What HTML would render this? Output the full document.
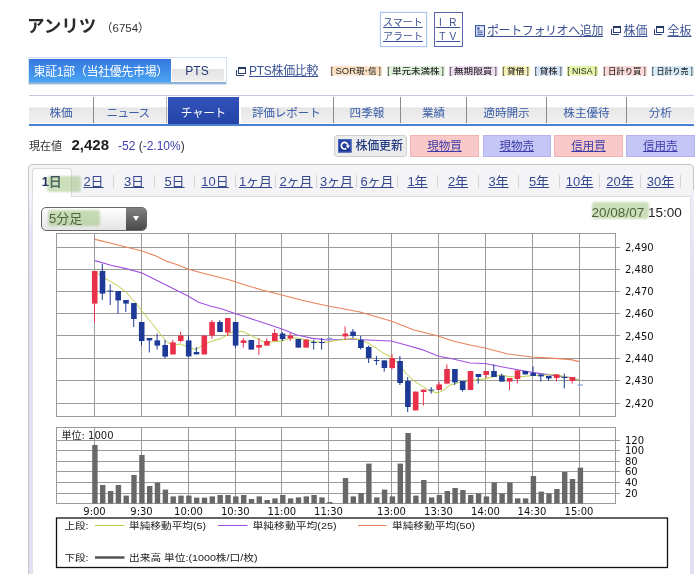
<!DOCTYPE html>
<html lang="ja"><head><meta charset="utf-8"><title>アンリツ (6754) チャート</title>
<style>
html,body{margin:0;padding:0;background:#fff}
body{width:700px;height:574px;position:relative;overflow:hidden;font-family:"Liberation Sans","Noto Sans CJK JP",sans-serif;color:#222}
div,span,a{box-sizing:border-box}
.ab{position:absolute;white-space:nowrap}
.lk{color:#3a5294;text-decoration:underline}
.ic{position:absolute}
.title{left:27px;top:13.5px;font-size:17.5px;line-height:24px;font-weight:bold;color:#2a2a2a}
.code{left:101px;top:20px;font-size:11.5px;line-height:16px;color:#333}
.sa{left:380px;top:12px;width:47px;height:35px;border:1px solid #a9c6ec;box-shadow:0 0 1px #a9c6ec;font-size:10px;line-height:14.5px;padding:2.5px 0 0 2px;color:#3a5294}
.ir{left:433.5px;top:12px;width:29px;height:35px;border:1px solid #5a64ac;font-size:10px;line-height:14.5px;padding:2.5px 0 0 0;text-align:center;color:#3a5294;letter-spacing:0.6px}
.mk{left:28px;top:57px;width:198.5px;height:28px;border:1px solid #d4e2f2;background:#fff}
.mkl{left:29px;top:82px;width:196.5px;height:2px;background:linear-gradient(#7ea8d2,#98bcde)}
.mk1{left:29px;top:59px;width:142px;height:23px;background:linear-gradient(#3677e0,#4aa4f2);color:#fff;font-size:12px;line-height:26px;padding-left:4.5px;letter-spacing:-0.35px}
.mk2{left:172px;top:59px;width:52px;height:22px;background:linear-gradient(#fff 0,#fff 10.5px,#e4e4e4 10.5px,#eee 100%);color:#22387a;font-size:12px;line-height:25px;text-align:center;padding-right:2px}
.tg{position:absolute;top:65px;height:12px;font-size:9px;line-height:12px;color:#222;white-space:nowrap;display:flex;justify-content:space-between}
.tg .tb{flex:1;text-align:center;letter-spacing:0.6px;padding-left:0.6px}
.tg .br{display:inline-block;width:5px;text-align:center}
.navtop{left:28.5px;top:95px;width:665.5px;height:1px;background:#c3c8de}
.navbot{left:28.5px;top:123.5px;width:665.5px;height:2.5px;background:#4c80d2}
.nv{position:absolute;top:96px;height:27px;font-size:11.6px;line-height:34px;text-align:center;color:#3a5ea8;background:linear-gradient(#fff 0,#fff 42%,#e6e6e6 43%,#f1f1f1 100%);white-space:nowrap}
.nv.act{top:97px;height:27px;line-height:32px;background:linear-gradient(#3353bb,#2443a6);color:#fff;z-index:2}
.ns{position:absolute;top:97px;width:1px;height:26px;background:#8a8a8a;z-index:1}
.now{left:29px;top:138px;font-size:11px;line-height:16px;color:#333}
.px{left:71.5px;top:135px;font-size:15px;line-height:20px;font-weight:bold;color:#222}
.chg{left:118px;top:138px;font-size:12px;line-height:16px;color:#333}
.chg span{color:#4040b0}
.bt{position:absolute;top:135px;height:21.5px;font-size:11.5px;line-height:20.5px;text-align:center;color:#3a3aa8;text-decoration:underline;white-space:nowrap}
.buy{background:#f9c9c9;border:1px solid #f3b3b3}
.sell{background:#c6c6f6;border:1px solid #b4b4ee}
.upd{left:334px;width:72.5px;background:#ececec;border:1px solid #cfcfcf;border-radius:3px;color:#223a80;text-decoration:none;text-align:left;padding-left:20.5px;font-weight:500;letter-spacing:-0.2px;font-size:12px}
.pbox{left:28px;top:164px;width:666px;height:420px;border:1px solid #c6c6c6;border-radius:4px;background:#f4f4f7}
.pin{left:32px;top:195.5px;width:658.5px;height:400px;background:#fff;border:1px solid #e2e2ea;border-top-color:#dcdce0}
.strip{left:29px;top:190px;width:3.5px;height:400px;background:linear-gradient(#f4f4f8 0,#f2f2fa 10px,#e2e2f5 45px,#e0e0f4 100%)}
.strip2{left:690.5px;top:190px;width:3px;height:400px;background:linear-gradient(#f0f0f8 0,#ececf7 20px,#e2e2f5 80px,#e0e0f4 100%)}
.pt{position:absolute;top:168px;width:40.5px;height:28px;font-size:13px;line-height:28px;padding-left:1.5px;text-align:center;color:#35488e;white-space:nowrap}
.pt u{text-decoration:underline}
.pt.act{width:39.5px;background:#fff;border:1px solid #dcdcdc;border-bottom:none;border-radius:3px 3px 0 0;font-weight:bold;color:#1a2a5a;height:28.5px;line-height:26px;padding-left:0;z-index:3}
.ps{position:absolute;top:175px;width:1px;height:13px;background:#d4d4d4}
.hl{position:absolute;background:rgba(140,182,100,0.44);border-radius:3px;filter:blur(0.8px);z-index:5}
.sel{left:41px;top:207px;width:106px;height:23.5px;border:1px solid #666;border-radius:5px;background:linear-gradient(#fff,#e4e4e4);overflow:hidden;font-size:13px;line-height:22px;padding-left:7px;color:#222}
.sel i{position:absolute;right:0;top:0;width:20px;height:100%;background:linear-gradient(#808080,#4a4a4a)}
.sel i:after{content:"";position:absolute;left:6.5px;top:8px;border:3.3px solid transparent;border-top:5px solid #fff;border-bottom:none}
.date{left:591.5px;top:204px;font-size:13.55px;line-height:18px;color:#222}
</style></head><body>
<div class="ab title">アンリツ</div>
<div class="ab code">（6754）</div>
<div class="ab sa"><span class="lk">スマート</span><br><span class="lk">アラート</span></div>
<div class="ab ir"><span class="lk">&nbsp;I&nbsp;&nbsp;R&nbsp;</span><br><span class="lk">&nbsp;T&nbsp;V&nbsp;</span></div>
<svg class="ic" style="left:474.5px;top:25px" width="10" height="12" viewBox="0 0 11 13"><rect x="0.6" y="0.6" width="9.8" height="11.8" fill="#e6edf8" stroke="#334f9e" stroke-width="1.2"/><rect x="2.5" y="2.5" width="2.5" height="2.5" fill="#334f9e"/><rect x="2.5" y="6" width="6" height="1" fill="#334f9e"/><rect x="2.5" y="8" width="6" height="1" fill="#334f9e"/><rect x="2.5" y="10" width="6" height="1" fill="#334f9e"/></svg>
<div class="ab lk" style="left:487px;top:22px;font-size:12px;line-height:18px;letter-spacing:-0.4px">ポートフォリオへ追加</div>
<svg class="ic" style="left:611px;top:26px" width="10" height="10" viewBox="0 0 10 10"><path d="M0.5 3V8.5H8" fill="none" stroke="#2a4076" stroke-width="1"/><rect x="2.5" y="0.5" width="7" height="6" fill="#fff" stroke="#2a4076" stroke-width="1"/><rect x="2" y="0" width="8" height="2" fill="#22365e"/></svg>
<div class="ab lk" style="left:623.5px;top:22px;font-size:12px;line-height:18px">株価</div>
<svg class="ic" style="left:654px;top:26px" width="10" height="10" viewBox="0 0 10 10"><path d="M0.5 3V8.5H8" fill="none" stroke="#2a4076" stroke-width="1"/><rect x="2.5" y="0.5" width="7" height="6" fill="#fff" stroke="#2a4076" stroke-width="1"/><rect x="2" y="0" width="8" height="2" fill="#22365e"/></svg>
<div class="ab lk" style="left:667.5px;top:22px;font-size:12px;line-height:18px">全板</div>
<div class="ab mk"></div><div class="ab mkl"></div>
<div class="ab mk1">東証1部（当社優先市場）</div>
<div class="ab mk2">PTS</div>
<svg class="ic" style="left:236px;top:67px" width="10" height="10" viewBox="0 0 10 10"><path d="M0.5 3V8.5H8" fill="none" stroke="#2a4076" stroke-width="1"/><rect x="2.5" y="0.5" width="7" height="6" fill="#fff" stroke="#2a4076" stroke-width="1"/><rect x="2" y="0" width="8" height="2" fill="#22365e"/></svg>
<div class="ab lk" style="left:249px;top:62px;font-size:12px;line-height:18px;letter-spacing:-0.3px">PTS株価比較</div>
<svg width="700" height="20" viewBox="0 60 700 20" style="position:absolute;left:0;top:60px"><g font-family="'Liberation Sans','Noto Sans CJK JP',sans-serif" font-size="7.7" font-weight="500" fill="#2a2a2a"><rect x="330.5" y="66" width="51.5" height="9.5" fill="#fce0c4"/><text x="330.8" y="73.8" font-size="8.5">[</text><text x="335.5" y="74" textLength="41.0" lengthAdjust="spacingAndGlyphs"><tspan font-size="9">SOR</tspan>現･信</text><text x="378.4" y="73.8" font-size="8.5">]</text><rect x="387.0" y="66" width="58.0" height="9.5" fill="#e0f2dc"/><text x="387.3" y="73.8" font-size="8.5">[</text><text x="392.0" y="74" textLength="47.5" lengthAdjust="spacingAndGlyphs">単元未満株</text><text x="441.4" y="73.8" font-size="8.5">]</text><rect x="449.0" y="66" width="49.0" height="9.5" fill="#efdcf2"/><text x="449.3" y="73.8" font-size="8.5">[</text><text x="454.0" y="74" textLength="38.5" lengthAdjust="spacingAndGlyphs">無期限買</text><text x="494.4" y="73.8" font-size="8.5">]</text><rect x="502.0" y="66" width="28.0" height="9.5" fill="#f5f1b8"/><text x="502.3" y="73.8" font-size="8.5">[</text><text x="507.0" y="74" textLength="17.5" lengthAdjust="spacingAndGlyphs">貸借</text><text x="526.4" y="73.8" font-size="8.5">]</text><rect x="534.5" y="66" width="28.5" height="9.5" fill="#d6e5f8"/><text x="534.8" y="73.8" font-size="8.5">[</text><text x="539.5" y="74" textLength="18.0" lengthAdjust="spacingAndGlyphs">貸株</text><text x="559.4" y="73.8" font-size="8.5">]</text><rect x="567.0" y="66" width="31.0" height="9.5" fill="#e4f4a8"/><text x="567.3" y="73.8" font-size="8.5">[</text><text x="572.0" y="74" textLength="20.5" lengthAdjust="spacingAndGlyphs"><tspan font-size="9">NISA</tspan></text><text x="594.4" y="73.8" font-size="8.5">]</text><rect x="603.0" y="66" width="44.0" height="9.5" fill="#fcdada"/><text x="603.3" y="73.8" font-size="8.5">[</text><text x="608.0" y="74" textLength="33.5" lengthAdjust="spacingAndGlyphs">日計り買</text><text x="643.4" y="73.8" font-size="8.5">]</text><rect x="651.5" y="66" width="42.5" height="9.5" fill="#d6ecf8"/><text x="651.8" y="73.8" font-size="8.5">[</text><text x="656.5" y="74" textLength="32.0" lengthAdjust="spacingAndGlyphs">日計り売</text><text x="690.4" y="73.8" font-size="8.5">]</text></g></svg>
<div class="ab navtop"></div>
<div class="nv" style="left:29.0px;width:64.0px;letter-spacing:0.00px;text-indent:0.0px">株価</div><div class="nv" style="left:93.0px;width:74.5px;letter-spacing:-0.70px;text-indent:-4.5px">ニュース</div><div class="ns" style="left:92.5px"></div><div class="nv act" style="left:167.5px;width:71.5px;letter-spacing:-0.30px;text-indent:0.0px">チャート</div><div class="nv" style="left:239.0px;width:94.5px;letter-spacing:-0.15px;text-indent:0.0px">評価レポート</div><div class="nv" style="left:333.5px;width:67.0px;letter-spacing:0.00px;text-indent:0.0px">四季報</div><div class="ns" style="left:333.0px"></div><div class="nv" style="left:400.5px;width:66.0px;letter-spacing:0.00px;text-indent:0.0px">業績</div><div class="ns" style="left:400.0px"></div><div class="nv" style="left:466.5px;width:80.0px;letter-spacing:0.00px;text-indent:0.0px">適時開示</div><div class="ns" style="left:466.0px"></div><div class="nv" style="left:546.5px;width:80.0px;letter-spacing:0.00px;text-indent:0.0px">株主優待</div><div class="ns" style="left:546.0px"></div><div class="nv" style="left:626.5px;width:67.5px;letter-spacing:0.00px;text-indent:0.0px">分析</div><div class="ns" style="left:626.0px"></div><div class="ns" style="left:166px;background:#b4b4b4"></div><div class="ns" style="left:239px;width:1.5px;background:#fff"></div>
<div class="ab navbot"></div>
<div class="ab now">現在値</div>
<div class="ab px">2,428</div>
<div class="ab chg"><span>-52</span> (<span>-2.10%</span>)</div>
<div class="bt upd"><svg class="ic" style="left:3px;top:3px" width="13.5" height="13.5" viewBox="0 0 13.5 13.5"><defs><linearGradient id="rg" x1="0" y1="0" x2="0" y2="1"><stop offset="0" stop-color="#2a4aae"/><stop offset="1" stop-color="#15308c"/></linearGradient></defs><rect width="13.5" height="13.5" fill="url(#rg)"/><rect x="0.5" y="0.5" width="12.5" height="12.5" fill="none" stroke="#4a66c0" stroke-width="1"/><path d="M9.9 6.6A3.3 3.3 0 1 0 8.3 9.5" fill="none" stroke="#fff" stroke-width="1.7"/><path d="M7.6 6.6h4.6l-2.3 3z" fill="#fff"/></svg>株価更新</div>
<div class="bt buy" style="left:410px;width:69px">現物買</div>
<div class="bt sell" style="left:482.5px;width:68.5px">現物売</div>
<div class="bt buy" style="left:554px;width:69px">信用買</div>
<div class="bt sell" style="left:626px;width:68.5px">信用売</div>
<div class="ab pbox"></div>
<div class="ab strip"></div><div class="ab strip2"></div>
<div class="ab pin"></div>
<div class="pt act" style="left:32.0px">1日</div><div class="pt" style="left:72.5px"><u>2日</u></div><div class="ps" style="left:113.0px"></div><div class="pt" style="left:113.0px"><u>3日</u></div><div class="ps" style="left:153.5px"></div><div class="pt" style="left:153.5px"><u>5日</u></div><div class="ps" style="left:194.0px"></div><div class="pt" style="left:194.0px"><u>10日</u></div><div class="ps" style="left:234.5px"></div><div class="pt" style="left:234.5px"><u>1ヶ月</u></div><div class="ps" style="left:275.0px"></div><div class="pt" style="left:275.0px"><u>2ヶ月</u></div><div class="ps" style="left:315.5px"></div><div class="pt" style="left:315.5px"><u>3ヶ月</u></div><div class="ps" style="left:356.0px"></div><div class="pt" style="left:356.0px"><u>6ヶ月</u></div><div class="ps" style="left:396.5px"></div><div class="pt" style="left:396.5px"><u>1年</u></div><div class="ps" style="left:437.0px"></div><div class="pt" style="left:437.0px"><u>2年</u></div><div class="ps" style="left:477.5px"></div><div class="pt" style="left:477.5px"><u>3年</u></div><div class="ps" style="left:518.0px"></div><div class="pt" style="left:518.0px"><u>5年</u></div><div class="ps" style="left:558.5px"></div><div class="pt" style="left:558.5px"><u>10年</u></div><div class="ps" style="left:599.0px"></div><div class="pt" style="left:599.0px"><u>20年</u></div><div class="ps" style="left:639.5px"></div><div class="pt" style="left:639.5px"><u>30年</u></div><div class="ps" style="left:680.0px"></div>
<div class="ab sel">5分足<i></i></div>
<div class="ab date">20/08/07 15:00</div>
<svg width="700" height="574" viewBox="0 0 700 574" style="position:absolute;left:0;top:0">
<g stroke="#9a9a9a" stroke-width="1" fill="none" shape-rendering="crispEdges">
<rect x="56.5" y="233.0" width="559.0" height="183.5" fill="#fff"/>
<line x1="56.5" y1="247.6" x2="620.0" y2="247.6"/>
<line x1="56.5" y1="269.5" x2="620.0" y2="269.5"/>
<line x1="56.5" y1="291.6" x2="620.0" y2="291.6"/>
<line x1="56.5" y1="313.6" x2="620.0" y2="313.6"/>
<line x1="56.5" y1="335.8" x2="620.0" y2="335.8"/>
<line x1="56.5" y1="358.0" x2="620.0" y2="358.0"/>
<line x1="56.5" y1="380.5" x2="620.0" y2="380.5"/>
<line x1="56.5" y1="403.0" x2="620.0" y2="403.0"/>
<line x1="94.5" y1="233.0" x2="94.5" y2="416.5"/>
<line x1="141.5" y1="233.0" x2="141.5" y2="416.5"/>
<line x1="188.5" y1="233.0" x2="188.5" y2="416.5"/>
<line x1="235.3" y1="233.0" x2="235.3" y2="416.5"/>
<line x1="281.8" y1="233.0" x2="281.8" y2="416.5"/>
<line x1="328.5" y1="233.0" x2="328.5" y2="416.5"/>
<line x1="391.5" y1="233.0" x2="391.5" y2="416.5"/>
<line x1="438.5" y1="233.0" x2="438.5" y2="416.5"/>
<line x1="485.5" y1="233.0" x2="485.5" y2="416.5"/>
<line x1="532.0" y1="233.0" x2="532.0" y2="416.5"/>
<line x1="579.0" y1="233.0" x2="579.0" y2="416.5"/>
<rect x="56.5" y="427.5" width="559.0" height="76.0" fill="#fff"/>
<line x1="56.5" y1="440.0" x2="620.0" y2="440.0"/>
<line x1="56.5" y1="450.4" x2="620.0" y2="450.4"/>
<line x1="56.5" y1="461.0" x2="620.0" y2="461.0"/>
<line x1="56.5" y1="471.6" x2="620.0" y2="471.6"/>
<line x1="56.5" y1="482.3" x2="620.0" y2="482.3"/>
<line x1="56.5" y1="493.0" x2="620.0" y2="493.0"/>
<line x1="94.5" y1="427.5" x2="94.5" y2="503.5"/>
<line x1="141.5" y1="427.5" x2="141.5" y2="503.5"/>
<line x1="188.5" y1="427.5" x2="188.5" y2="503.5"/>
<line x1="235.3" y1="427.5" x2="235.3" y2="503.5"/>
<line x1="281.8" y1="427.5" x2="281.8" y2="503.5"/>
<line x1="328.5" y1="427.5" x2="328.5" y2="503.5"/>
<line x1="391.5" y1="427.5" x2="391.5" y2="503.5"/>
<line x1="438.5" y1="427.5" x2="438.5" y2="503.5"/>
<line x1="485.5" y1="427.5" x2="485.5" y2="503.5"/>
<line x1="532.0" y1="427.5" x2="532.0" y2="503.5"/>
<line x1="579.0" y1="427.5" x2="579.0" y2="503.5"/>
</g>
<polyline points="95.0,239.4 110.0,243.0 126.0,247.0 142.0,251.0 156.0,256.0 166.0,261.0 178.0,265.0 188.0,269.0 202.0,273.0 214.0,276.0 230.0,280.0 245.0,285.0 262.0,290.0 282.0,295.0 305.0,301.0 328.0,306.0 360.0,312.0 391.0,321.0 414.0,330.0 438.0,336.0 453.0,341.0 470.0,345.0 485.0,348.0 508.0,354.0 532.0,357.0 555.0,358.4 571.0,359.6 579.0,361.6" fill="none" stroke="#e8835a" stroke-width="1.1"/>
<polyline points="95.0,260.6 110.0,265.0 126.0,268.6 142.0,273.0 156.0,280.0 170.0,287.0 180.0,292.0 188.0,296.0 198.0,302.0 210.0,306.0 222.0,309.0 235.0,313.6 258.0,321.0 282.0,329.0 297.0,335.0 313.0,338.4 328.0,340.0 352.0,339.0 368.0,340.0 391.0,341.0 406.0,345.0 422.0,349.6 438.0,356.0 453.0,359.0 470.0,363.0 485.0,363.5 508.0,368.0 532.0,372.4 555.0,375.6 571.0,377.6 579.0,380.0" fill="none" stroke="#a050e0" stroke-width="1.1"/>
<polyline points="95.0,271.0 102.0,277.0 110.0,281.0 118.0,286.0 126.0,292.0 134.0,301.0 142.0,311.0 150.0,321.0 158.0,331.0 166.0,341.0 172.4,345.5 180.0,344.0 188.0,347.0 196.0,349.6 204.0,344.4 212.0,341.0 220.0,339.0 227.0,335.0 235.0,331.0 243.0,331.6 250.0,335.0 258.0,339.0 266.0,343.0 274.0,341.6 282.0,341.0 290.0,338.0 297.0,338.0 305.0,339.6 313.0,341.6 321.0,342.4 328.0,342.0 336.0,340.4 344.0,339.6 352.0,338.4 360.0,339.6 368.0,343.0 376.0,348.0 383.0,353.0 391.0,357.0 399.0,364.0 406.6,374.0 414.0,381.0 422.0,386.0 430.0,391.0 438.0,393.0 444.0,390.0 450.0,385.0 461.0,382.0 470.0,381.0 477.0,379.6 485.0,379.0 492.0,377.0 500.0,375.0 508.0,376.4 516.0,377.0 524.0,376.4 532.0,375.6 547.0,375.0 555.0,374.4 563.0,376.4 571.0,378.0 579.0,380.0" fill="none" stroke="#bcd048" stroke-width="1"/>
<line x1="94.5" y1="271.0" x2="94.5" y2="323.0" stroke="#e8304a" stroke-width="1"/>
<rect x="91.9" y="271.0" width="5.6" height="32.6" fill="#e8304a"/>
<line x1="102.3" y1="264.0" x2="102.3" y2="300.0" stroke="#1c3a96" stroke-width="1"/>
<rect x="99.7" y="271.0" width="5.6" height="22.6" fill="#1c3a96"/>
<line x1="110.2" y1="284.4" x2="110.2" y2="305.0" stroke="#1c3a96" stroke-width="1"/>
<rect x="107.6" y="290.6" width="5.6" height="1.0" fill="#1c3a96"/>
<line x1="118.0" y1="291.0" x2="118.0" y2="313.6" stroke="#1c3a96" stroke-width="1"/>
<rect x="115.4" y="291.0" width="5.6" height="9.4" fill="#1c3a96"/>
<line x1="125.8" y1="300.0" x2="125.8" y2="312.0" stroke="#1c3a96" stroke-width="1"/>
<rect x="123.2" y="300.0" width="5.6" height="3.6" fill="#1c3a96"/>
<line x1="133.7" y1="303.0" x2="133.7" y2="327.0" stroke="#1c3a96" stroke-width="1"/>
<rect x="131.1" y="303.0" width="5.6" height="16.0" fill="#1c3a96"/>
<line x1="141.5" y1="322.0" x2="141.5" y2="345.6" stroke="#1c3a96" stroke-width="1"/>
<rect x="138.9" y="322.0" width="5.6" height="19.0" fill="#1c3a96"/>
<line x1="149.3" y1="338.0" x2="149.3" y2="352.4" stroke="#1c3a96" stroke-width="1"/>
<rect x="146.7" y="338.0" width="5.6" height="2.4" fill="#1c3a96"/>
<line x1="157.1" y1="333.6" x2="157.1" y2="349.6" stroke="#1c3a96" stroke-width="1"/>
<rect x="154.5" y="340.4" width="5.6" height="5.2" fill="#1c3a96"/>
<line x1="165.0" y1="340.0" x2="165.0" y2="358.4" stroke="#1c3a96" stroke-width="1"/>
<rect x="162.4" y="345.0" width="5.6" height="11.6" fill="#1c3a96"/>
<line x1="172.8" y1="340.0" x2="172.8" y2="354.4" stroke="#e8304a" stroke-width="1"/>
<rect x="170.2" y="342.4" width="5.6" height="12.0" fill="#e8304a"/>
<line x1="180.6" y1="331.6" x2="180.6" y2="342.4" stroke="#e8304a" stroke-width="1"/>
<rect x="178.0" y="335.6" width="5.6" height="5.4" fill="#e8304a"/>
<line x1="188.5" y1="335.6" x2="188.5" y2="357.6" stroke="#1c3a96" stroke-width="1"/>
<rect x="185.9" y="340.4" width="5.6" height="16.0" fill="#1c3a96"/>
<line x1="196.3" y1="347.0" x2="196.3" y2="354.4" stroke="#1c3a96" stroke-width="1"/>
<rect x="193.7" y="352.0" width="5.6" height="2.4" fill="#1c3a96"/>
<line x1="204.1" y1="335.6" x2="204.1" y2="354.4" stroke="#e8304a" stroke-width="1"/>
<rect x="201.5" y="335.6" width="5.6" height="18.8" fill="#e8304a"/>
<line x1="211.9" y1="320.0" x2="211.9" y2="338.6" stroke="#e8304a" stroke-width="1"/>
<rect x="209.3" y="322.0" width="5.6" height="13.6" fill="#e8304a"/>
<line x1="219.8" y1="320.0" x2="219.8" y2="332.0" stroke="#1c3a96" stroke-width="1"/>
<rect x="217.2" y="322.0" width="5.6" height="10.0" fill="#1c3a96"/>
<line x1="227.6" y1="318.0" x2="227.6" y2="336.0" stroke="#e8304a" stroke-width="1"/>
<rect x="225.0" y="318.0" width="5.6" height="14.6" fill="#e8304a"/>
<line x1="235.4" y1="322.0" x2="235.4" y2="348.0" stroke="#1c3a96" stroke-width="1"/>
<rect x="232.8" y="322.0" width="5.6" height="23.6" fill="#1c3a96"/>
<line x1="243.3" y1="338.0" x2="243.3" y2="347.6" stroke="#e8304a" stroke-width="1"/>
<rect x="240.7" y="340.4" width="5.6" height="2.6" fill="#e8304a"/>
<line x1="251.1" y1="340.0" x2="251.1" y2="349.6" stroke="#1c3a96" stroke-width="1"/>
<rect x="248.5" y="340.0" width="5.6" height="9.6" fill="#1c3a96"/>
<line x1="258.9" y1="338.0" x2="258.9" y2="355.0" stroke="#e8304a" stroke-width="1"/>
<rect x="256.3" y="345.0" width="5.6" height="2.6" fill="#e8304a"/>
<line x1="266.8" y1="338.4" x2="266.8" y2="345.6" stroke="#e8304a" stroke-width="1"/>
<rect x="264.2" y="341.0" width="5.6" height="4.6" fill="#e8304a"/>
<line x1="274.6" y1="329.0" x2="274.6" y2="341.0" stroke="#e8304a" stroke-width="1"/>
<rect x="272.0" y="333.0" width="5.6" height="8.0" fill="#e8304a"/>
<line x1="282.4" y1="332.0" x2="282.4" y2="341.0" stroke="#1c3a96" stroke-width="1"/>
<rect x="279.8" y="333.6" width="5.6" height="5.4" fill="#1c3a96"/>
<line x1="290.2" y1="333.0" x2="290.2" y2="341.0" stroke="#e8304a" stroke-width="1"/>
<rect x="287.6" y="335.6" width="5.6" height="2.8" fill="#e8304a"/>
<line x1="298.1" y1="339.0" x2="298.1" y2="347.6" stroke="#1c3a96" stroke-width="1"/>
<rect x="295.5" y="339.0" width="5.6" height="8.6" fill="#1c3a96"/>
<line x1="305.9" y1="339.6" x2="305.9" y2="347.6" stroke="#e8304a" stroke-width="1"/>
<rect x="303.3" y="339.6" width="5.6" height="8.0" fill="#e8304a"/>
<line x1="313.7" y1="339.6" x2="313.7" y2="349.6" stroke="#1c3a96" stroke-width="1"/>
<rect x="311.1" y="342.0" width="5.6" height="1.0" fill="#1c3a96"/>
<line x1="321.6" y1="338.0" x2="321.6" y2="349.6" stroke="#1c3a96" stroke-width="1"/>
<rect x="319.0" y="342.0" width="5.6" height="1.0" fill="#1c3a96"/>
<line x1="329.4" y1="337.5" x2="329.4" y2="339.5" stroke="#7a9adc" stroke-width="1"/>
<rect x="326.8" y="338.0" width="5.6" height="1.0" fill="#7a9adc"/>
<line x1="345.1" y1="326.4" x2="345.1" y2="340.0" stroke="#e8304a" stroke-width="1"/>
<rect x="342.5" y="333.6" width="5.6" height="2.8" fill="#e8304a"/>
<line x1="352.9" y1="329.0" x2="352.9" y2="338.0" stroke="#1c3a96" stroke-width="1"/>
<rect x="350.3" y="331.6" width="5.6" height="4.4" fill="#1c3a96"/>
<line x1="360.7" y1="336.0" x2="360.7" y2="349.6" stroke="#1c3a96" stroke-width="1"/>
<rect x="358.1" y="340.0" width="5.6" height="8.0" fill="#1c3a96"/>
<line x1="368.6" y1="345.6" x2="368.6" y2="363.0" stroke="#1c3a96" stroke-width="1"/>
<rect x="365.9" y="347.0" width="5.6" height="11.0" fill="#1c3a96"/>
<line x1="376.4" y1="356.0" x2="376.4" y2="365.0" stroke="#1c3a96" stroke-width="1"/>
<rect x="373.8" y="360.0" width="5.6" height="1.0" fill="#1c3a96"/>
<line x1="384.2" y1="360.4" x2="384.2" y2="371.6" stroke="#1c3a96" stroke-width="1"/>
<rect x="381.6" y="360.4" width="5.6" height="7.6" fill="#1c3a96"/>
<line x1="392.0" y1="354.0" x2="392.0" y2="369.6" stroke="#e8304a" stroke-width="1"/>
<rect x="389.4" y="358.0" width="5.6" height="10.0" fill="#e8304a"/>
<line x1="399.9" y1="356.0" x2="399.9" y2="385.0" stroke="#1c3a96" stroke-width="1"/>
<rect x="397.3" y="361.0" width="5.6" height="22.0" fill="#1c3a96"/>
<line x1="407.7" y1="377.0" x2="407.7" y2="412.0" stroke="#1c3a96" stroke-width="1"/>
<rect x="405.1" y="381.0" width="5.6" height="26.0" fill="#1c3a96"/>
<line x1="415.5" y1="391.6" x2="415.5" y2="410.4" stroke="#e8304a" stroke-width="1"/>
<rect x="412.9" y="391.6" width="5.6" height="18.8" fill="#e8304a"/>
<line x1="423.4" y1="389.6" x2="423.4" y2="405.6" stroke="#e8304a" stroke-width="1"/>
<rect x="420.8" y="389.6" width="5.6" height="2.4" fill="#e8304a"/>
<line x1="431.2" y1="387.0" x2="431.2" y2="393.6" stroke="#1c3a96" stroke-width="1"/>
<rect x="428.6" y="389.6" width="5.6" height="1.0" fill="#1c3a96"/>
<line x1="439.0" y1="381.6" x2="439.0" y2="390.0" stroke="#e8304a" stroke-width="1"/>
<rect x="436.4" y="384.4" width="5.6" height="5.6" fill="#e8304a"/>
<line x1="446.9" y1="364.4" x2="446.9" y2="383.6" stroke="#e8304a" stroke-width="1"/>
<rect x="444.2" y="369.0" width="5.6" height="14.6" fill="#e8304a"/>
<line x1="454.7" y1="369.0" x2="454.7" y2="385.0" stroke="#1c3a96" stroke-width="1"/>
<rect x="452.1" y="369.0" width="5.6" height="13.4" fill="#1c3a96"/>
<line x1="462.5" y1="381.0" x2="462.5" y2="391.6" stroke="#1c3a96" stroke-width="1"/>
<rect x="459.9" y="381.0" width="5.6" height="9.0" fill="#1c3a96"/>
<line x1="470.3" y1="371.0" x2="470.3" y2="390.0" stroke="#e8304a" stroke-width="1"/>
<rect x="467.7" y="371.0" width="5.6" height="19.0" fill="#e8304a"/>
<line x1="478.2" y1="374.0" x2="478.2" y2="383.6" stroke="#1c3a96" stroke-width="1"/>
<rect x="475.6" y="374.0" width="5.6" height="3.0" fill="#1c3a96"/>
<line x1="486.0" y1="371.0" x2="486.0" y2="378.0" stroke="#e8304a" stroke-width="1"/>
<rect x="483.4" y="371.0" width="5.6" height="4.0" fill="#e8304a"/>
<line x1="493.8" y1="364.4" x2="493.8" y2="377.0" stroke="#1c3a96" stroke-width="1"/>
<rect x="491.2" y="371.0" width="5.6" height="6.0" fill="#1c3a96"/>
<line x1="501.7" y1="373.6" x2="501.7" y2="381.6" stroke="#1c3a96" stroke-width="1"/>
<rect x="499.1" y="375.6" width="5.6" height="6.0" fill="#1c3a96"/>
<line x1="509.5" y1="378.0" x2="509.5" y2="390.4" stroke="#e8304a" stroke-width="1"/>
<rect x="506.9" y="378.0" width="5.6" height="3.6" fill="#e8304a"/>
<line x1="517.3" y1="370.4" x2="517.3" y2="383.6" stroke="#e8304a" stroke-width="1"/>
<rect x="514.7" y="370.4" width="5.6" height="8.6" fill="#e8304a"/>
<line x1="525.1" y1="371.0" x2="525.1" y2="374.4" stroke="#1c3a96" stroke-width="1"/>
<rect x="522.5" y="371.0" width="5.6" height="3.4" fill="#1c3a96"/>
<line x1="533.0" y1="366.4" x2="533.0" y2="376.0" stroke="#1c3a96" stroke-width="1"/>
<rect x="530.4" y="373.0" width="5.6" height="3.0" fill="#1c3a96"/>
<line x1="540.8" y1="374.4" x2="540.8" y2="381.6" stroke="#1c3a96" stroke-width="1"/>
<rect x="538.2" y="374.4" width="5.6" height="2.0" fill="#1c3a96"/>
<line x1="548.6" y1="376.0" x2="548.6" y2="381.0" stroke="#1c3a96" stroke-width="1"/>
<rect x="546.0" y="376.0" width="5.6" height="2.4" fill="#1c3a96"/>
<line x1="556.5" y1="374.4" x2="556.5" y2="381.6" stroke="#e8304a" stroke-width="1"/>
<rect x="553.9" y="374.4" width="5.6" height="3.6" fill="#e8304a"/>
<line x1="564.3" y1="373.6" x2="564.3" y2="388.4" stroke="#1c3a96" stroke-width="1"/>
<rect x="561.7" y="377.0" width="5.6" height="1.0" fill="#1c3a96"/>
<line x1="572.1" y1="377.0" x2="572.1" y2="383.6" stroke="#e8304a" stroke-width="1"/>
<rect x="569.5" y="377.0" width="5.6" height="4.0" fill="#e8304a"/>
<line x1="580.0" y1="384.5" x2="580.0" y2="385.5" stroke="#7a9adc" stroke-width="1"/>
<rect x="577.4" y="384.5" width="5.6" height="1.0" fill="#7a9adc"/>
<rect x="92.2" y="445.0" width="5.4" height="58.5" fill="#686868"/>
<rect x="100.0" y="485.0" width="5.4" height="18.5" fill="#686868"/>
<rect x="107.9" y="491.0" width="5.4" height="12.5" fill="#686868"/>
<rect x="115.7" y="485.0" width="5.4" height="18.5" fill="#686868"/>
<rect x="123.5" y="495.6" width="5.4" height="7.9" fill="#686868"/>
<rect x="131.3" y="475.0" width="5.4" height="28.5" fill="#686868"/>
<rect x="139.2" y="455.0" width="5.4" height="48.5" fill="#686868"/>
<rect x="147.0" y="486.0" width="5.4" height="17.5" fill="#686868"/>
<rect x="154.8" y="482.6" width="5.4" height="20.9" fill="#686868"/>
<rect x="162.7" y="489.6" width="5.4" height="13.9" fill="#686868"/>
<rect x="170.5" y="496.4" width="5.4" height="7.1" fill="#686868"/>
<rect x="178.3" y="495.6" width="5.4" height="7.9" fill="#686868"/>
<rect x="186.2" y="495.6" width="5.4" height="7.9" fill="#686868"/>
<rect x="194.0" y="497.6" width="5.4" height="5.9" fill="#686868"/>
<rect x="201.8" y="497.6" width="5.4" height="5.9" fill="#686868"/>
<rect x="209.6" y="496.4" width="5.4" height="7.1" fill="#686868"/>
<rect x="217.5" y="495.0" width="5.4" height="8.5" fill="#686868"/>
<rect x="225.3" y="495.0" width="5.4" height="8.5" fill="#686868"/>
<rect x="233.1" y="496.4" width="5.4" height="7.1" fill="#686868"/>
<rect x="241.0" y="495.0" width="5.4" height="8.5" fill="#686868"/>
<rect x="248.8" y="499.0" width="5.4" height="4.5" fill="#686868"/>
<rect x="256.6" y="496.4" width="5.4" height="7.1" fill="#686868"/>
<rect x="264.5" y="500.0" width="5.4" height="3.5" fill="#686868"/>
<rect x="272.3" y="498.4" width="5.4" height="5.1" fill="#686868"/>
<rect x="280.1" y="495.0" width="5.4" height="8.5" fill="#686868"/>
<rect x="287.9" y="498.4" width="5.4" height="5.1" fill="#686868"/>
<rect x="295.8" y="497.4" width="5.4" height="6.1" fill="#686868"/>
<rect x="303.6" y="496.4" width="5.4" height="7.1" fill="#686868"/>
<rect x="311.4" y="495.0" width="5.4" height="8.5" fill="#686868"/>
<rect x="319.3" y="497.4" width="5.4" height="6.1" fill="#686868"/>
<rect x="327.1" y="502.0" width="5.4" height="1.5" fill="#686868"/>
<rect x="342.8" y="478.0" width="5.4" height="25.5" fill="#686868"/>
<rect x="350.6" y="496.4" width="5.4" height="7.1" fill="#686868"/>
<rect x="358.4" y="493.0" width="5.4" height="10.5" fill="#686868"/>
<rect x="366.2" y="463.6" width="5.4" height="39.9" fill="#686868"/>
<rect x="374.1" y="497.4" width="5.4" height="6.1" fill="#686868"/>
<rect x="381.9" y="489.6" width="5.4" height="13.9" fill="#686868"/>
<rect x="389.7" y="496.4" width="5.4" height="7.1" fill="#686868"/>
<rect x="397.6" y="463.6" width="5.4" height="39.9" fill="#686868"/>
<rect x="405.4" y="433.0" width="5.4" height="70.5" fill="#686868"/>
<rect x="413.2" y="495.6" width="5.4" height="7.9" fill="#686868"/>
<rect x="421.1" y="480.0" width="5.4" height="23.5" fill="#686868"/>
<rect x="428.9" y="497.4" width="5.4" height="6.1" fill="#686868"/>
<rect x="436.7" y="495.0" width="5.4" height="8.5" fill="#686868"/>
<rect x="444.6" y="491.0" width="5.4" height="12.5" fill="#686868"/>
<rect x="452.4" y="488.0" width="5.4" height="15.5" fill="#686868"/>
<rect x="460.2" y="490.0" width="5.4" height="13.5" fill="#686868"/>
<rect x="468.0" y="495.0" width="5.4" height="8.5" fill="#686868"/>
<rect x="475.9" y="493.4" width="5.4" height="10.1" fill="#686868"/>
<rect x="483.7" y="496.4" width="5.4" height="7.1" fill="#686868"/>
<rect x="491.5" y="482.4" width="5.4" height="21.1" fill="#686868"/>
<rect x="499.4" y="493.4" width="5.4" height="10.1" fill="#686868"/>
<rect x="507.2" y="482.4" width="5.4" height="21.1" fill="#686868"/>
<rect x="515.0" y="498.4" width="5.4" height="5.1" fill="#686868"/>
<rect x="522.9" y="498.4" width="5.4" height="5.1" fill="#686868"/>
<rect x="530.7" y="476.0" width="5.4" height="27.5" fill="#686868"/>
<rect x="538.5" y="491.6" width="5.4" height="11.9" fill="#686868"/>
<rect x="546.3" y="493.4" width="5.4" height="10.1" fill="#686868"/>
<rect x="554.2" y="489.0" width="5.4" height="14.5" fill="#686868"/>
<rect x="562.0" y="472.0" width="5.4" height="31.5" fill="#686868"/>
<rect x="569.8" y="479.0" width="5.4" height="24.5" fill="#686868"/>
<rect x="577.7" y="467.6" width="5.4" height="35.9" fill="#686868"/>
<g font-family="'DejaVu Sans',sans-serif" font-size="10" fill="#111">
<text x="625" y="251.3">2,490</text>
<text x="625" y="273.2">2,480</text>
<text x="625" y="295.3">2,470</text>
<text x="625" y="317.3">2,460</text>
<text x="625" y="339.5">2,450</text>
<text x="625" y="361.7">2,440</text>
<text x="625" y="384.2">2,430</text>
<text x="625" y="406.7">2,420</text>
<text x="625" y="443.7">120</text>
<text x="625" y="454.1">100</text>
<text x="625" y="464.7">80</text>
<text x="625" y="475.3">60</text>
<text x="625" y="486.0">40</text>
<text x="625" y="496.7">20</text>
<text x="94.5" y="514.5" text-anchor="middle">9:00</text>
<text x="141.5" y="514.5" text-anchor="middle">9:30</text>
<text x="188.5" y="514.5" text-anchor="middle">10:00</text>
<text x="235.3" y="514.5" text-anchor="middle">10:30</text>
<text x="281.8" y="514.5" text-anchor="middle">11:00</text>
<text x="328.5" y="514.5" text-anchor="middle">11:30</text>
<text x="391.5" y="514.5" text-anchor="middle">13:00</text>
<text x="438.5" y="514.5" text-anchor="middle">13:30</text>
<text x="485.5" y="514.5" text-anchor="middle">14:00</text>
<text x="532.0" y="514.5" text-anchor="middle">14:30</text>
<text x="579.0" y="514.5" text-anchor="middle">15:00</text>
</g>
<rect x="56.5" y="518" width="611" height="49.5" fill="#fff" stroke="#111" stroke-width="1.3"/>
<g font-family="'Liberation Sans','Noto Sans CJK JP',sans-serif" font-size="9.2" fill="#1a1a1a">
<text x="64.5" y="529.3" textLength="24" lengthAdjust="spacingAndGlyphs">上段:</text>
<line x1="95" y1="525.5" x2="124.5" y2="525.5" stroke="#b8d040" stroke-width="1"/>
<text x="129" y="529.3" textLength="77" lengthAdjust="spacingAndGlyphs">単純移動平均(5)</text>
<line x1="218" y1="525.5" x2="247.5" y2="525.5" stroke="#a050e0" stroke-width="1"/>
<text x="252.5" y="529.3" textLength="84" lengthAdjust="spacingAndGlyphs">単純移動平均(25)</text>
<line x1="358" y1="525.5" x2="386.5" y2="525.5" stroke="#e8835a" stroke-width="1"/>
<text x="392" y="529.3" textLength="83" lengthAdjust="spacingAndGlyphs">単純移動平均(50)</text>
<text x="64.5" y="561.3" textLength="24" lengthAdjust="spacingAndGlyphs">下段:</text>
<line x1="95" y1="557.5" x2="124.5" y2="557.5" stroke="#555" stroke-width="2.5"/>
<text x="129" y="561.3" textLength="128.5" lengthAdjust="spacingAndGlyphs">出来高 単位:(1000株/口/枚)</text>
<text x="61.5" y="439.2" font-size="10" font-family="'DejaVu Sans','Noto Sans CJK JP',sans-serif">単位: 1000</text>
</g>
</svg>
<div class="hl" style="left:47px;top:175.5px;width:34px;height:16px"></div>
<div class="hl" style="left:48px;top:209.5px;width:52px;height:16.5px"></div>
<div class="hl" style="left:592px;top:202px;width:57px;height:17px"></div>
</body></html>
